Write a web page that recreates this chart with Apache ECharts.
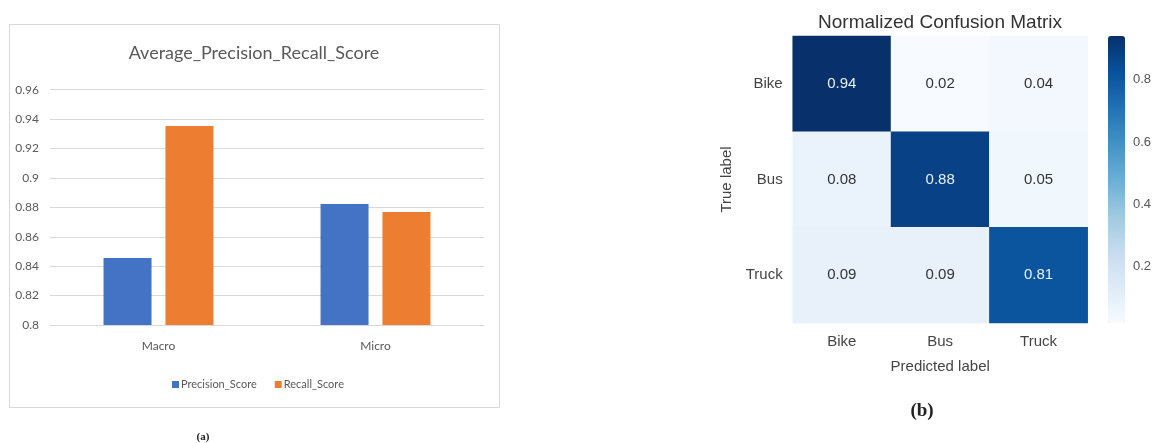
<!DOCTYPE html>
<html>
<head>
<meta charset="utf-8">
<script src="https://cdn.jsdelivr.net/npm/echarts@6/dist/echarts.min.js"></script>
<style>
  html, body { margin: 0; padding: 0; background: #fff; }
  #chart { width: 1154px; height: 443px; }
</style>
</head>
<body>
<div id="chart"></div>
<script>
// bar chart (a)
var barCategories = ['Macro', 'Micro'];
var precisionScore = [0.8456, 0.8823];
var recallScore = [0.9354, 0.8769];

// confusion matrix (b)
var classLabels = ['Bike', 'Bus', 'Truck'];
// rows = true label, columns = predicted label
var confusion = [
	[0.94, 0.02, 0.04],
	[0.08, 0.88, 0.05],
	[0.09, 0.09, 0.81]
];
var colorbarTicks = [0.2, 0.4, 0.6, 0.8];

// matplotlib "Blues"
var blues = ['#f7fbff', '#deebf7', '#c6dbef', '#9ecae1', '#6baed6', '#4292c6', '#2171b5', '#08519c', '#08306b'];

var heatData = [];
confusion.forEach(function (row, r) {
	row.forEach(function (v, c) {
		heatData.push({ value: [c, r, v], label: { color: v > 0.5 ? '#e8f0fa' : '#333' } });
	});
});
var vMin = 0.02, vMax = 0.94;

var chart = echarts.init(document.getElementById('chart'));
chart.setOption({
	animation: false,
	backgroundColor: '#fff',
	graphic: [
		// frame round the bar chart
		{ type: 'rect', shape: { x: 9.5, y: 24.5, width: 490, height: 383 }, style: { fill: 'none', stroke: '#d9d9d9', lineWidth: 1 } },
		{ type: 'text', x: 254, y: 53, style: { text: 'Average_Precision_Recall_Score', font: '18px Lato', fill: '#595959', textAlign: 'center', textVerticalAlign: 'middle' } },
		{ type: 'text', x: 203, y: 437, style: { text: '(a)', font: 'bold 11px "Liberation Serif"', fill: '#222', textAlign: 'center', textVerticalAlign: 'middle' } },
		{ type: 'text', x: 940, y: 23, style: { text: 'Normalized Confusion Matrix', font: '19px "Liberation Sans"', fill: '#333', textAlign: 'center', textVerticalAlign: 'middle' } },
		{ type: 'text', x: 922, y: 411, style: { text: '(b)', font: 'bold 19px "Liberation Serif"', fill: '#222', textAlign: 'center', textVerticalAlign: 'middle' } }
	],
	legend: {
		data: ['Precision_Score', 'Recall_Score'],
		left: 167,
		top: 374,
		icon: 'rect',
		itemWidth: 7,
		itemHeight: 7,
		itemGap: 18,
		textStyle: { fontFamily: 'Lato', fontSize: 11, color: '#595959', padding: [0, 0, 0, -3] }
	},
	grid: [
		{ left: 50, right: 670, top: 89.7, bottom: 118 },
		{ left: 792.7, right: 66.3, top: 36, height: 287 },
		{ left: 1108, width: 17, top: 36, height: 287 }
	],
	xAxis: [
		{
			gridIndex: 0,
			type: 'category',
			data: barCategories,
			axisLine: { lineStyle: { color: '#d9d9d9' } },
			axisTick: { show: false },
			axisLabel: { fontFamily: 'Lato', fontSize: 12, color: '#595959', margin: 15 }
		},
		{
			gridIndex: 1,
			type: 'category',
			data: classLabels,
			name: 'Predicted label',
			nameLocation: 'middle',
			nameGap: 36,
			nameTextStyle: { fontFamily: 'Liberation Sans', fontSize: 15, color: '#444' },
			axisLine: { show: false },
			axisTick: { show: false },
			splitLine: { show: false },
			axisLabel: { fontFamily: 'Liberation Sans', fontSize: 15, color: '#444', margin: 11 }
		},
		{ gridIndex: 2, type: 'value', show: false }
	],
	yAxis: [
		{
			gridIndex: 0,
			type: 'value',
			min: 0.8,
			max: 0.96,
			interval: 0.02,
			axisLine: { show: false },
			axisTick: { show: false },
			splitLine: { lineStyle: { color: '#d9d9d9' } },
			axisLabel: { fontFamily: 'Lato', fontSize: 12, color: '#595959', margin: 11 }
		},
		{
			gridIndex: 1,
			type: 'category',
			data: classLabels,
			inverse: true,
			name: 'True label',
			nameLocation: 'middle',
			nameGap: 58,
			nameRotate: 90,
			nameTextStyle: { fontFamily: 'Liberation Sans', fontSize: 15, color: '#444' },
			axisLine: { show: false },
			axisTick: { show: false },
			splitLine: { show: false },
			axisLabel: { fontFamily: 'Liberation Sans', fontSize: 15, color: '#444', margin: 10 }
		},
		{
			gridIndex: 2,
			type: 'value',
			position: 'right',
			min: vMin,
			max: vMax,
			axisLine: { show: false },
			axisTick: { show: false },
			splitLine: { show: false },
			axisLabel: { customValues: colorbarTicks, fontFamily: 'Liberation Sans', fontSize: 13, color: '#555', margin: 10 }
		}
	],
	visualMap: {
		type: 'continuous',
		seriesIndex: 2,
		dimension: 2,
		min: vMin,
		max: vMax,
		calculable: false,
		text: ['', ''],
		padding: 0,
		left: 1108,
		top: 36,
		itemWidth: 17,
		itemHeight: 287,
		inRange: { color: blues }
	},
	series: [
		{
			name: 'Precision_Score',
			type: 'bar',
			xAxisIndex: 0,
			yAxisIndex: 0,
			data: precisionScore,
			barWidth: 48,
			barGap: '29%',
			itemStyle: { color: '#4472c4' }
		},
		{
			name: 'Recall_Score',
			type: 'bar',
			xAxisIndex: 0,
			yAxisIndex: 0,
			data: recallScore,
			barWidth: 48,
			itemStyle: { color: '#ed7d31' }
		},
		{
			type: 'heatmap',
			xAxisIndex: 1,
			yAxisIndex: 1,
			data: heatData,
			label: {
				show: true,
				fontFamily: 'Liberation Sans',
				fontSize: 15,
				formatter: function (p) { return p.value[2].toFixed(2); }
			}
		}
	]
});
</script>
</body>
</html>
